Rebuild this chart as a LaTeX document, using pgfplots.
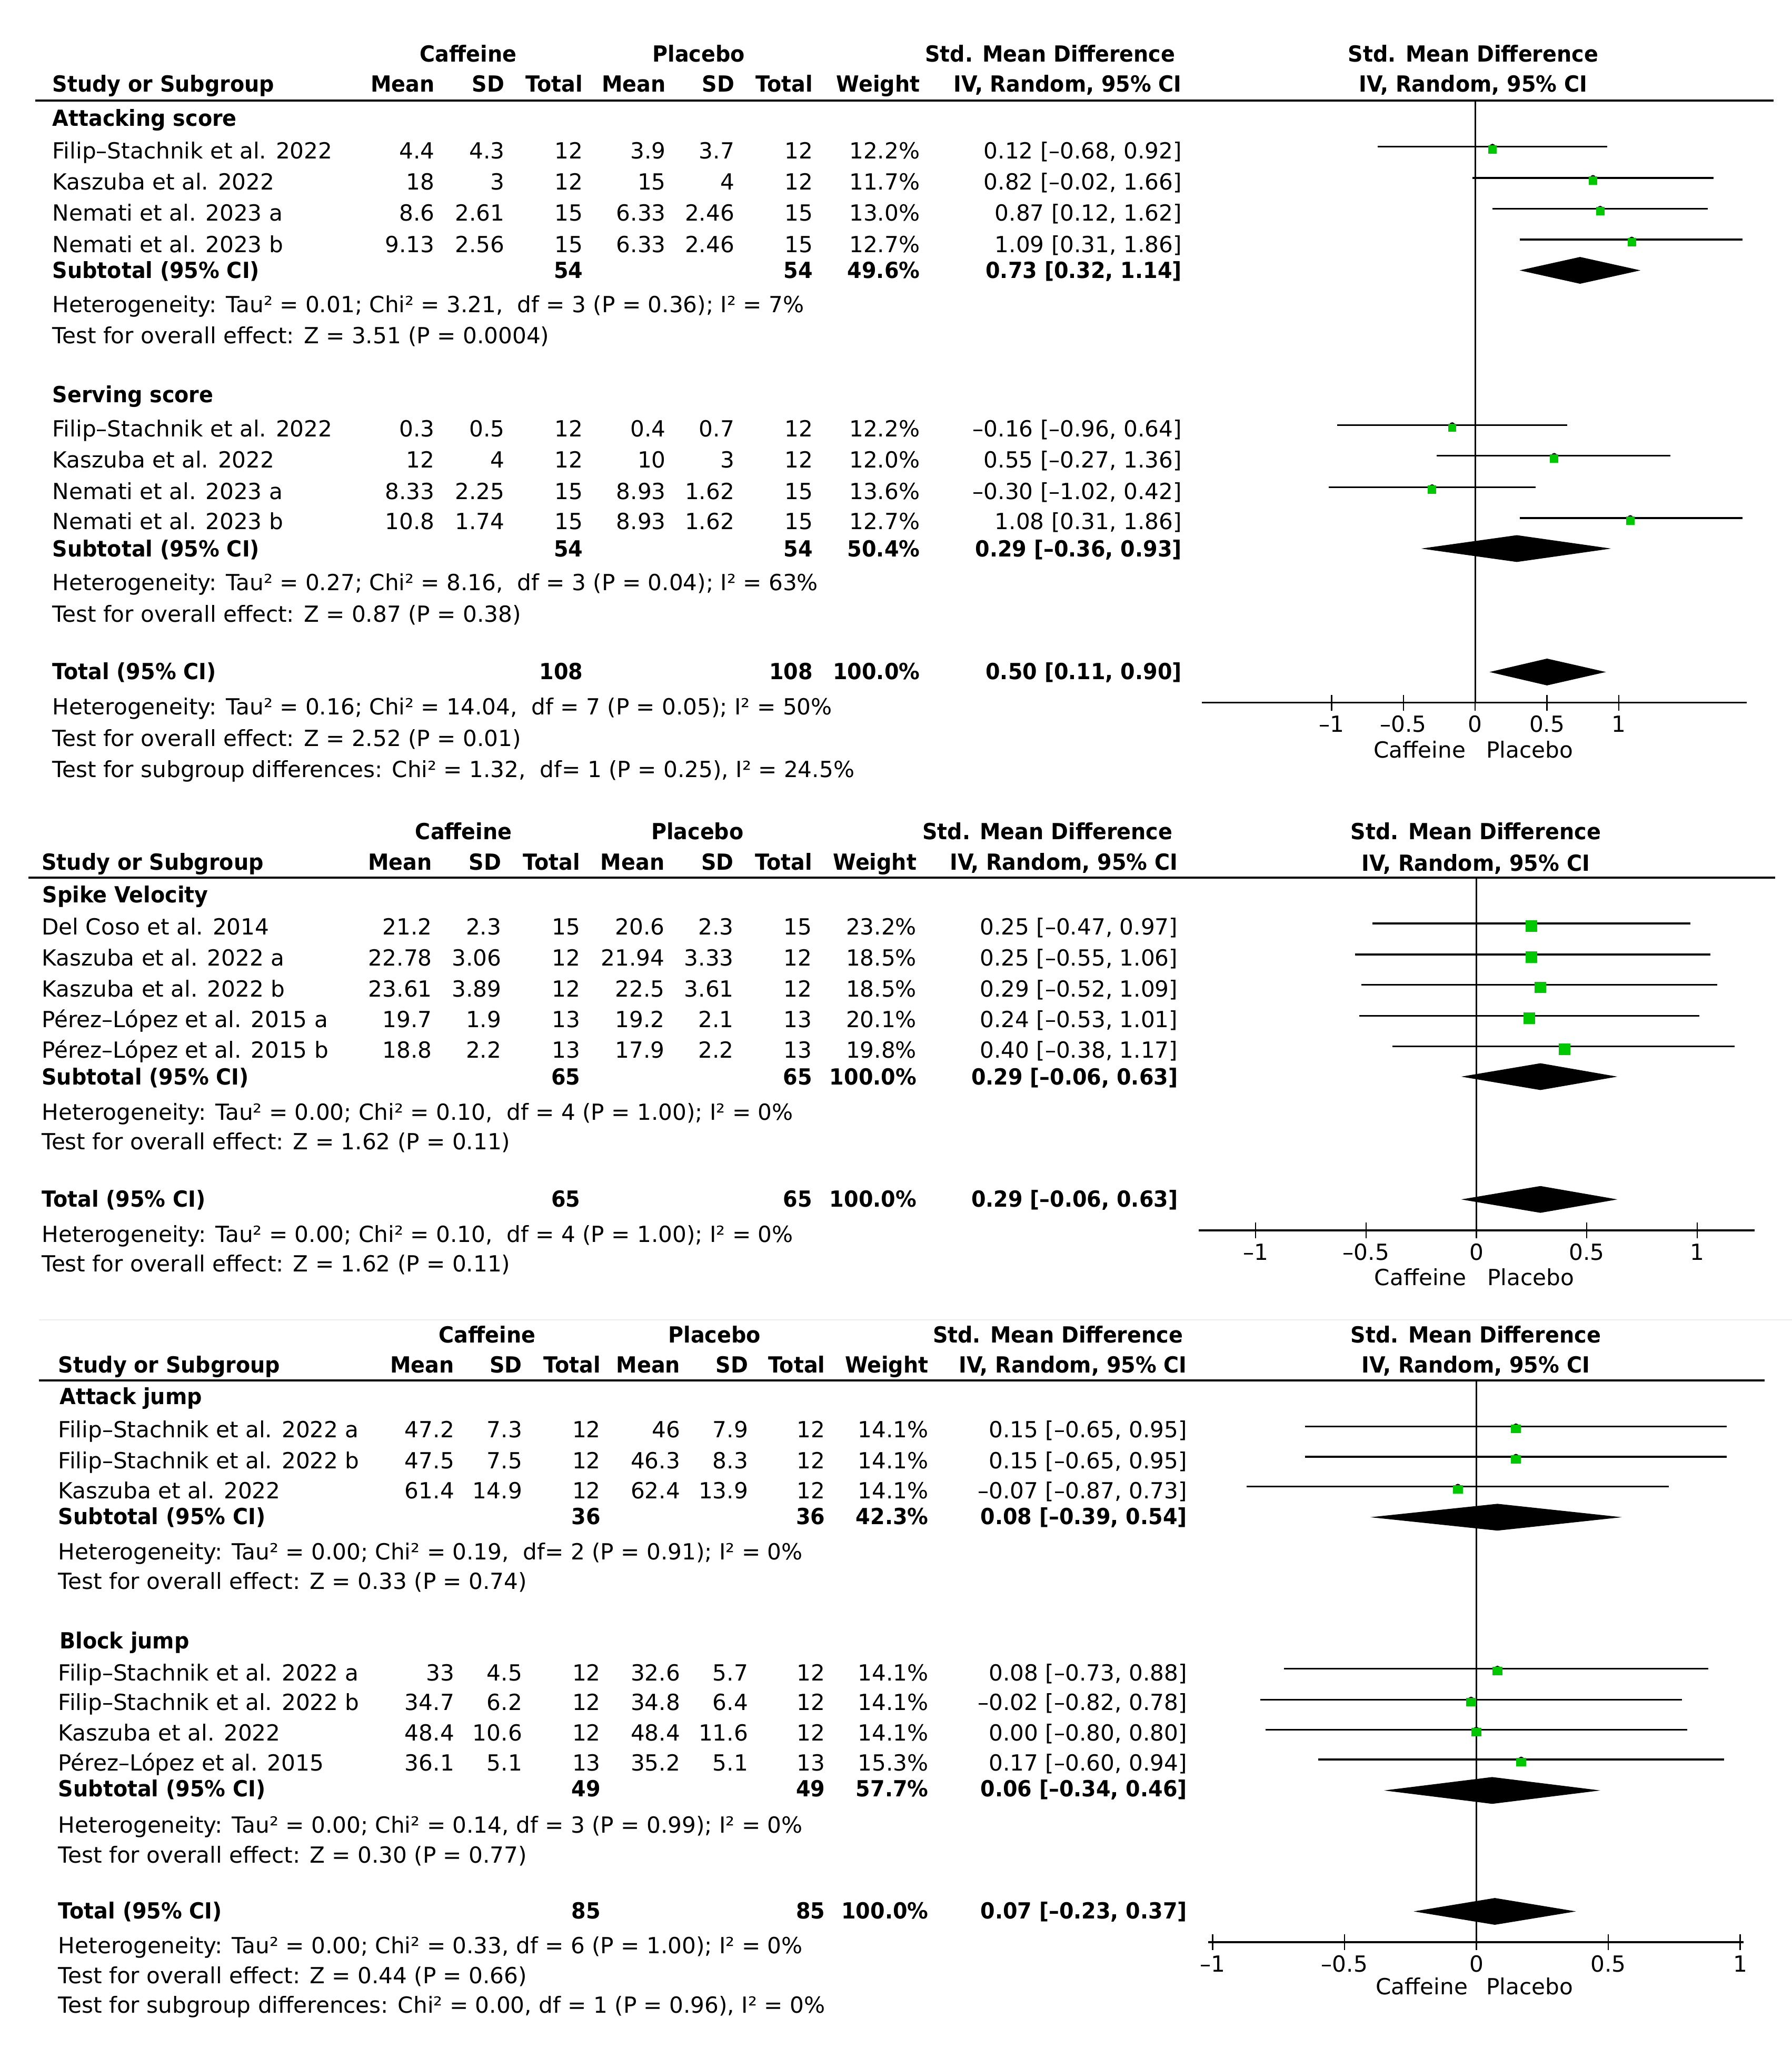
\documentclass[border=0pt]{standalone}
\usepackage{fontspec}
\setmainfont{DejaVu Sans}[BoldFeatures={FakeStretch=0.94}]
\usepackage{pgfplots}
\usepackage{pgfplotstable}
\pgfplotsset{compat=1.18}
\definecolor{sqgreen}{RGB}{0,200,0}

\newcommand\fs{\fontsize{17}{20}\selectfont}
\tikzset{
  t/.style={inner sep=0pt, font=\fs, text height=12.4pt, text depth=0pt},
  L/.style={t, anchor=west},
  R/.style={t, anchor=east},
  C/.style={t, anchor=center},
}
% one table row: y, then the eight number columns at \cA..\cH
\newcommand\vals[9]{%
  \node[R] at (\cA,#1) {#2}; \node[R] at (\cB,#1) {#3};
  \node[R] at (\cC,#1) {#4}; \node[R] at (\cD,#1) {#5};
  \node[R] at (\cE,#1) {#6}; \node[R] at (\cF,#1) {#7};
  \node[R] at (\cG,#1) {#8}; \node[R] at (\cH,#1) {#9};}
\newcommand\bvals[5]{%
  \node[R] at (\cC,#1) {\textbf{#2}}; \node[R] at (\cF,#1) {\textbf{#3}};
  \node[R] at (\cG,#1) {\textbf{#4}}; \node[R] at (\cH,#1) {\textbf{#5}};}
\newcommand\heads[3]{%
  \node[C] at (#2,#1) {\textbf{Caffeine}};
  \node[C] at (#3,#1) {\textbf{Placebo}};}

\pgfplotsset{fp/.style={
  scale only axis, clip=false, anchor=south west,
  axis x line=bottom, axis y line=none,
  x axis line style={-, line width=1.3pt},
  xtick={-1,-0.5,0,0.5,1}, xticklabels={–1,–0.5,0,0.5,1},
  tick align=center, major tick length=12pt,
  every tick/.style={black, line width=1pt},
  xticklabel style={font=\fs, inner sep=0pt, text height=12.4pt, text depth=0pt, yshift=-4pt},
  ytick=\empty, enlargelimits=false},
  ci/.style={black, only marks, mark=none,
  error bars/.cd, x dir=both, x explicit, error mark=none,
  error bar style={line width=1.3pt, black}},
  sq/.style={only marks, mark=square*, sqgreen, mark options={yshift=-2pt}},
  dia/.style={fill=black, draw=black, line width=0.5pt}}

% SMD estimate, lower, upper, row position
\pgfplotstableread{
e l h y
0.12 -0.68 0.92 112.3
0.82 -0.02 1.66 136.2
0.87 0.12 1.62 159.8
1.09 0.31 1.86 183.4
-0.16 -0.96 0.64 325.5
0.55 -0.27 1.36 349
-0.30 -1.02 0.42 373
1.08 0.31 1.86 396.6
}\pA
\pgfplotstableread{
e l h y
0.25 -0.47 0.97 707
0.25 -0.55 1.06 730.8
0.29 -0.52 1.09 754
0.24 -0.53 1.01 777.6
0.40 -0.38 1.17 801.2
}\pB
\pgfplotstableread{
e l h y
0.15 -0.65 0.95 1092
0.15 -0.65 0.95 1115.3
-0.07 -0.87 0.73 1138.2
0.08 -0.73 0.88 1277.5
-0.02 -0.82 0.78 1301.2
0.00 -0.80 0.80 1324.2
0.17 -0.60 0.94 1347.1
}\pC

\begin{document}
\begin{tikzpicture}
\path[use as bounding box] (0pt,0pt) rectangle (1372pt,-1568pt);

% ---------------- panel 1 ----------------
\begin{axis}[fp, at={(920.3pt,-538pt)}, width=417.2pt, height=461pt,
  xmin=-1.902, xmax=1.891, ymin=-538, ymax=-77]
\addplot[ci] table[x=e, y expr=-\thisrow{y},
  x error plus expr=\thisrow{h}-\thisrow{e}, x error minus expr=\thisrow{e}-\thisrow{l}] {\pA};
\addplot[sq, mark size=3pt] table[x=e, y expr=-\thisrow{y}] {\pA};
\addplot[dia] coordinates {(0.32,-207) (0.73,-197) (1.14,-207) (0.73,-217)} -- cycle;
\addplot[dia] coordinates {(-0.36,-420) (0.29,-410) (0.93,-420) (0.29,-430)} -- cycle;
\addplot[dia] coordinates {(0.11,-514.5) (0.50,-504.5) (0.90,-514.5) (0.50,-524.5)} -- cycle;
\draw[line width=1.1pt] (axis cs:0,-77) -- (axis cs:0,-538);
\end{axis}

% ---------------- panel 2 ----------------
\begin{axis}[fp, at={(918pt,-942pt)}, width=425.4pt, height=270pt,
  xmin=-1.257, xmax=1.260, ymin=-942, ymax=-672]
\addplot[ci] table[x=e, y expr=-\thisrow{y},
  x error plus expr=\thisrow{h}-\thisrow{e}, x error minus expr=\thisrow{e}-\thisrow{l}] {\pB};
\addplot[sq, mark size=4.2pt] table[x=e, y expr=-\thisrow{y}] {\pB};
\addplot[dia] coordinates {(-0.06,-824.3) (0.29,-814.3) (0.63,-824.3) (0.29,-834.3)} -- cycle;
\addplot[dia] coordinates {(-0.06,-918.3) (0.29,-908.3) (0.63,-918.3) (0.29,-928.3)} -- cycle;
\draw[line width=1.1pt] (axis cs:0,-672) -- (axis cs:0,-942);
\end{axis}

% ---------------- panel 3 ----------------
\begin{axis}[fp, at={(925pt,-1487pt)}, width=410pt, height=430pt,
  xmin=-1.017, xmax=1.013, ymin=-1487, ymax=-1057]
\addplot[ci] table[x=e, y expr=-\thisrow{y},
  x error plus expr=\thisrow{h}-\thisrow{e}, x error minus expr=\thisrow{e}-\thisrow{l}] {\pC};
\addplot[sq, mark size=3pt, mark options={xscale=1.2, yshift=-2pt}] table[x=e, y expr=-\thisrow{y}] {\pC};
\addplot[dia] coordinates {(-0.39,-1161.6) (0.08,-1151.6) (0.54,-1161.6) (0.08,-1171.6)} -- cycle;
\addplot[dia] coordinates {(-0.34,-1370.8) (0.06,-1360.8) (0.46,-1370.8) (0.06,-1380.8)} -- cycle;
\addplot[dia] coordinates {(-0.23,-1463.4) (0.07,-1453.4) (0.37,-1463.4) (0.07,-1473.4)} -- cycle;
\draw[line width=1.1pt] (axis cs:0,-1057) -- (axis cs:0,-1487);
\end{axis}

\begin{scope}[x=1pt, y=-1pt]
% ===== panel 1 text =====
\def\cA{333}\def\cB{386.5}\def\cC{446.5}\def\cD{510}\def\cE{562.5}\def\cF{622.5}\def\cG{704.5}\def\cH{905}
\def\xl{40}
\heads{41}{358.5}{535}
\node[C] at (804,41) {\textbf{Std. Mean Difference}};
\node[C] at (1128,41) {\textbf{Std. Mean Difference}};
\node[L] at (\xl,64) {\textbf{Study or Subgroup}};
\vals{64}{\textbf{Mean}}{\textbf{SD}}{\textbf{Total}}{\textbf{Mean}}{\textbf{SD}}{\textbf{Total}}{\textbf{Weight}}{\textbf{IV, Random, 95\% CI}}
\node[C] at (1128,64) {\textbf{IV, Random, 95\% CI}};
\draw[line width=1.6pt] (27,77) -- (1358,77);
\node[L] at (\xl,90.5) {\textbf{Attacking score}};
\node[L] at (\xl,115.5) {Filip–Stachnik et al. 2022};
\vals{115.5}{4.4}{4.3}{12}{3.9}{3.7}{12}{12.2\%}{0.12 [–0.68, 0.92]}
\node[L] at (\xl,139) {Kaszuba et al. 2022};
\vals{139}{18}{3}{12}{15}{4}{12}{11.7\%}{0.82 [–0.02, 1.66]}
\node[L] at (\xl,162.7) {Nemati et al. 2023 a};
\vals{162.7}{8.6}{2.61}{15}{6.33}{2.46}{15}{13.0\%}{0.87 [0.12, 1.62]}
\node[L] at (\xl,187) {Nemati et al. 2023 b};
\vals{187}{9.13}{2.56}{15}{6.33}{2.46}{15}{12.7\%}{1.09 [0.31, 1.86]}
\node[L] at (\xl,207) {\textbf{Subtotal (95\% CI)}};
\bvals{207}{54}{54}{49.6\%}{0.73 [0.32, 1.14]}
\node[L] at (\xl,233) {Heterogeneity: Tau² = 0.01; Chi² = 3.21,\ \ df = 3 (P = 0.36); I² = 7\%};
\node[L] at (\xl,257) {Test for overall effect: Z = 3.51 (P = 0.0004)};
\node[L] at (\xl,302) {\textbf{Serving score}};
\node[L] at (\xl,328) {Filip–Stachnik et al. 2022};
\vals{328}{0.3}{0.5}{12}{0.4}{0.7}{12}{12.2\%}{–0.16 [–0.96, 0.64]}
\node[L] at (\xl,352) {Kaszuba et al. 2022};
\vals{352}{12}{4}{12}{10}{3}{12}{12.0\%}{0.55 [–0.27, 1.36]}
\node[L] at (\xl,376) {Nemati et al. 2023 a};
\vals{376}{8.33}{2.25}{15}{8.93}{1.62}{15}{13.6\%}{–0.30 [–1.02, 0.42]}
\node[L] at (\xl,399) {Nemati et al. 2023 b};
\vals{399}{10.8}{1.74}{15}{8.93}{1.62}{15}{12.7\%}{1.08 [0.31, 1.86]}
\node[L] at (\xl,420) {\textbf{Subtotal (95\% CI)}};
\bvals{420}{54}{54}{50.4\%}{0.29 [–0.36, 0.93]}
\node[L] at (\xl,446) {Heterogeneity: Tau² = 0.27; Chi² = 8.16,\ \ df = 3 (P = 0.04); I² = 63\%};
\node[L] at (\xl,470) {Test for overall effect: Z = 0.87 (P = 0.38)};
\node[L] at (\xl,514) {\textbf{Total (95\% CI)}};
\bvals{514}{108}{108}{100.0\%}{0.50 [0.11, 0.90]}
\node[L] at (\xl,541) {Heterogeneity: Tau² = 0.16; Chi² = 14.04,\ \ df = 7 (P = 0.05); I² = 50\%};
\node[L] at (\xl,565) {Test for overall effect: Z = 2.52 (P = 0.01)};
\node[L] at (\xl,589) {Test for subgroup differences: Chi² = 1.32,\ \ df= 1 (P = 0.25), I² = 24.5\%};
\node[t, anchor=east] at (1122.4,574) {Caffeine};
\node[t, anchor=west] at (1137.8,574) {Placebo};

% ===== panel 2 text =====
\def\cA{331}\def\cB{384}\def\cC{444.5}\def\cD{509}\def\cE{562}\def\cF{622}\def\cG{702}\def\cH{902}
\def\xl{31.8}
\heads{636.5}{355}{534}
\node[C] at (802,636.5) {\textbf{Std. Mean Difference}};
\node[C] at (1130,636.5) {\textbf{Std. Mean Difference}};
\node[L] at (\xl,660) {\textbf{Study or Subgroup}};
\vals{660}{\textbf{Mean}}{\textbf{SD}}{\textbf{Total}}{\textbf{Mean}}{\textbf{SD}}{\textbf{Total}}{\textbf{Weight}}{\textbf{IV, Random, 95\% CI}}
\node[C] at (1130,660.5) {\textbf{IV, Random, 95\% CI}};
\draw[line width=1.5pt] (21.7,672) -- (1359,672);
\node[L] at (32.4,685) {\textbf{Spike Velocity}};
\node[L] at (\xl,709.6) {Del Coso et al. 2014};
\vals{709.6}{21.2}{2.3}{15}{20.6}{2.3}{15}{23.2\%}{0.25 [–0.47, 0.97]}
\node[L] at (\xl,733.3) {Kaszuba et al. 2022 a};
\vals{733.3}{22.78}{3.06}{12}{21.94}{3.33}{12}{18.5\%}{0.25 [–0.55, 1.06]}
\node[L] at (\xl,757) {Kaszuba et al. 2022 b};
\vals{757}{23.61}{3.89}{12}{22.5}{3.61}{12}{18.5\%}{0.29 [–0.52, 1.09]}
\node[L] at (\xl,780.6) {Pérez–López et al. 2015 a};
\vals{780.6}{19.7}{1.9}{13}{19.2}{2.1}{13}{20.1\%}{0.24 [–0.53, 1.01]}
\node[L] at (\xl,803.7) {Pérez–López et al. 2015 b};
\vals{803.7}{18.8}{2.2}{13}{17.9}{2.2}{13}{19.8\%}{0.40 [–0.38, 1.17]}
\node[L] at (\xl,824.3) {\textbf{Subtotal (95\% CI)}};
\bvals{824.3}{65}{65}{100.0\%}{0.29 [–0.06, 0.63]}
\node[L] at (\xl,851.5) {Heterogeneity: Tau² = 0.00; Chi² = 0.10,\ \ df = 4 (P = 1.00); I² = 0\%};
\node[L] at (\xl,874) {Test for overall effect: Z = 1.62 (P = 0.11)};
\node[L] at (\xl,917.7) {\textbf{Total (95\% CI)}};
\bvals{917.7}{65}{65}{100.0\%}{0.29 [–0.06, 0.63]}
\node[L] at (\xl,944.9) {Heterogeneity: Tau² = 0.00; Chi² = 0.10,\ \ df = 4 (P = 1.00); I² = 0\%};
\node[L] at (\xl,967.3) {Test for overall effect: Z = 1.62 (P = 0.11)};
\node[t, anchor=east] at (1123,978) {Caffeine};
\node[t, anchor=west] at (1138.6,978) {Placebo};

% ===== panel 3 text =====
\def\cA{348}\def\cB{400}\def\cC{460}\def\cD{521}\def\cE{573}\def\cF{632}\def\cG{711}\def\cH{909}
\def\xl{44.5}
\draw[gray!15, line width=0.8pt] (30,1010.5) -- (1372,1010.5);
\heads{1022}{373}{547}
\node[C] at (810,1022) {\textbf{Std. Mean Difference}};
\node[C] at (1130,1022) {\textbf{Std. Mean Difference}};
\node[L] at (\xl,1045) {\textbf{Study or Subgroup}};
\vals{1045}{\textbf{Mean}}{\textbf{SD}}{\textbf{Total}}{\textbf{Mean}}{\textbf{SD}}{\textbf{Total}}{\textbf{Weight}}{\textbf{IV, Random, 95\% CI}}
\node[C] at (1130,1045) {\textbf{IV, Random, 95\% CI}};
\draw[line width=1.5pt] (30,1057) -- (1351,1057);
\node[L] at (45.5,1069.2) {\textbf{Attack jump}};
\node[L] at (\xl,1094.6) {Filip–Stachnik et al. 2022 a};
\vals{1094.6}{47.2}{7.3}{12}{46}{7.9}{12}{14.1\%}{0.15 [–0.65, 0.95]}
\node[L] at (\xl,1118.1) {Filip–Stachnik et al. 2022 b};
\vals{1118.1}{47.5}{7.5}{12}{46.3}{8.3}{12}{14.1\%}{0.15 [–0.65, 0.95]}
\node[L] at (\xl,1141) {Kaszuba et al. 2022};
\vals{1141}{61.4}{14.9}{12}{62.4}{13.9}{12}{14.1\%}{–0.07 [–0.87, 0.73]}
\node[L] at (\xl,1160.9) {\textbf{Subtotal (95\% CI)}};
\bvals{1160.9}{36}{36}{42.3\%}{0.08 [–0.39, 0.54]}
\node[L] at (\xl,1188.1) {Heterogeneity: Tau² = 0.00; Chi² = 0.19,\ \ df= 2 (P = 0.91); I² = 0\%};
\node[L] at (\xl,1210.5) {Test for overall effect: Z = 0.33 (P = 0.74)};
\node[L] at (45.5,1256.2) {\textbf{Block jump}};
\node[L] at (\xl,1280.5) {Filip–Stachnik et al. 2022 a};
\vals{1280.5}{33}{4.5}{12}{32.6}{5.7}{12}{14.1\%}{0.08 [–0.73, 0.88]}
\node[L] at (\xl,1303.3) {Filip–Stachnik et al. 2022 b};
\vals{1303.3}{34.7}{6.2}{12}{34.8}{6.4}{12}{14.1\%}{–0.02 [–0.82, 0.78]}
\node[L] at (\xl,1326.5) {Kaszuba et al. 2022};
\vals{1326.5}{48.4}{10.6}{12}{48.4}{11.6}{12}{14.1\%}{0.00 [–0.80, 0.80]}
\node[L] at (\xl,1349.4) {Pérez–López et al. 2015};
\vals{1349.4}{36.1}{5.1}{13}{35.2}{5.1}{13}{15.3\%}{0.17 [–0.60, 0.94]}
\node[L] at (\xl,1369.3) {\textbf{Subtotal (95\% CI)}};
\bvals{1369.3}{49}{49}{57.7\%}{0.06 [–0.34, 0.46]}
\node[L] at (\xl,1397.2) {Heterogeneity: Tau² = 0.00; Chi² = 0.14, df = 3 (P = 0.99); I² = 0\%};
\node[L] at (\xl,1420) {Test for overall effect: Z = 0.30 (P = 0.77)};
\node[L] at (\xl,1462.8) {\textbf{Total (95\% CI)}};
\bvals{1462.8}{85}{85}{100.0\%}{0.07 [–0.23, 0.37]}
\node[L] at (\xl,1489.6) {Heterogeneity: Tau² = 0.00; Chi² = 0.33, df = 6 (P = 1.00); I² = 0\%};
\node[L] at (\xl,1512.5) {Test for overall effect: Z = 0.44 (P = 0.66)};
\node[L] at (\xl,1534.9) {Test for subgroup differences: Chi² = 0.00, df = 1 (P = 0.96), I² = 0\%};
\node[t, anchor=east] at (1124,1520.8) {Caffeine};
\node[t, anchor=west] at (1137.8,1520.8) {Placebo};
\end{scope}
\end{tikzpicture}
\end{document}
